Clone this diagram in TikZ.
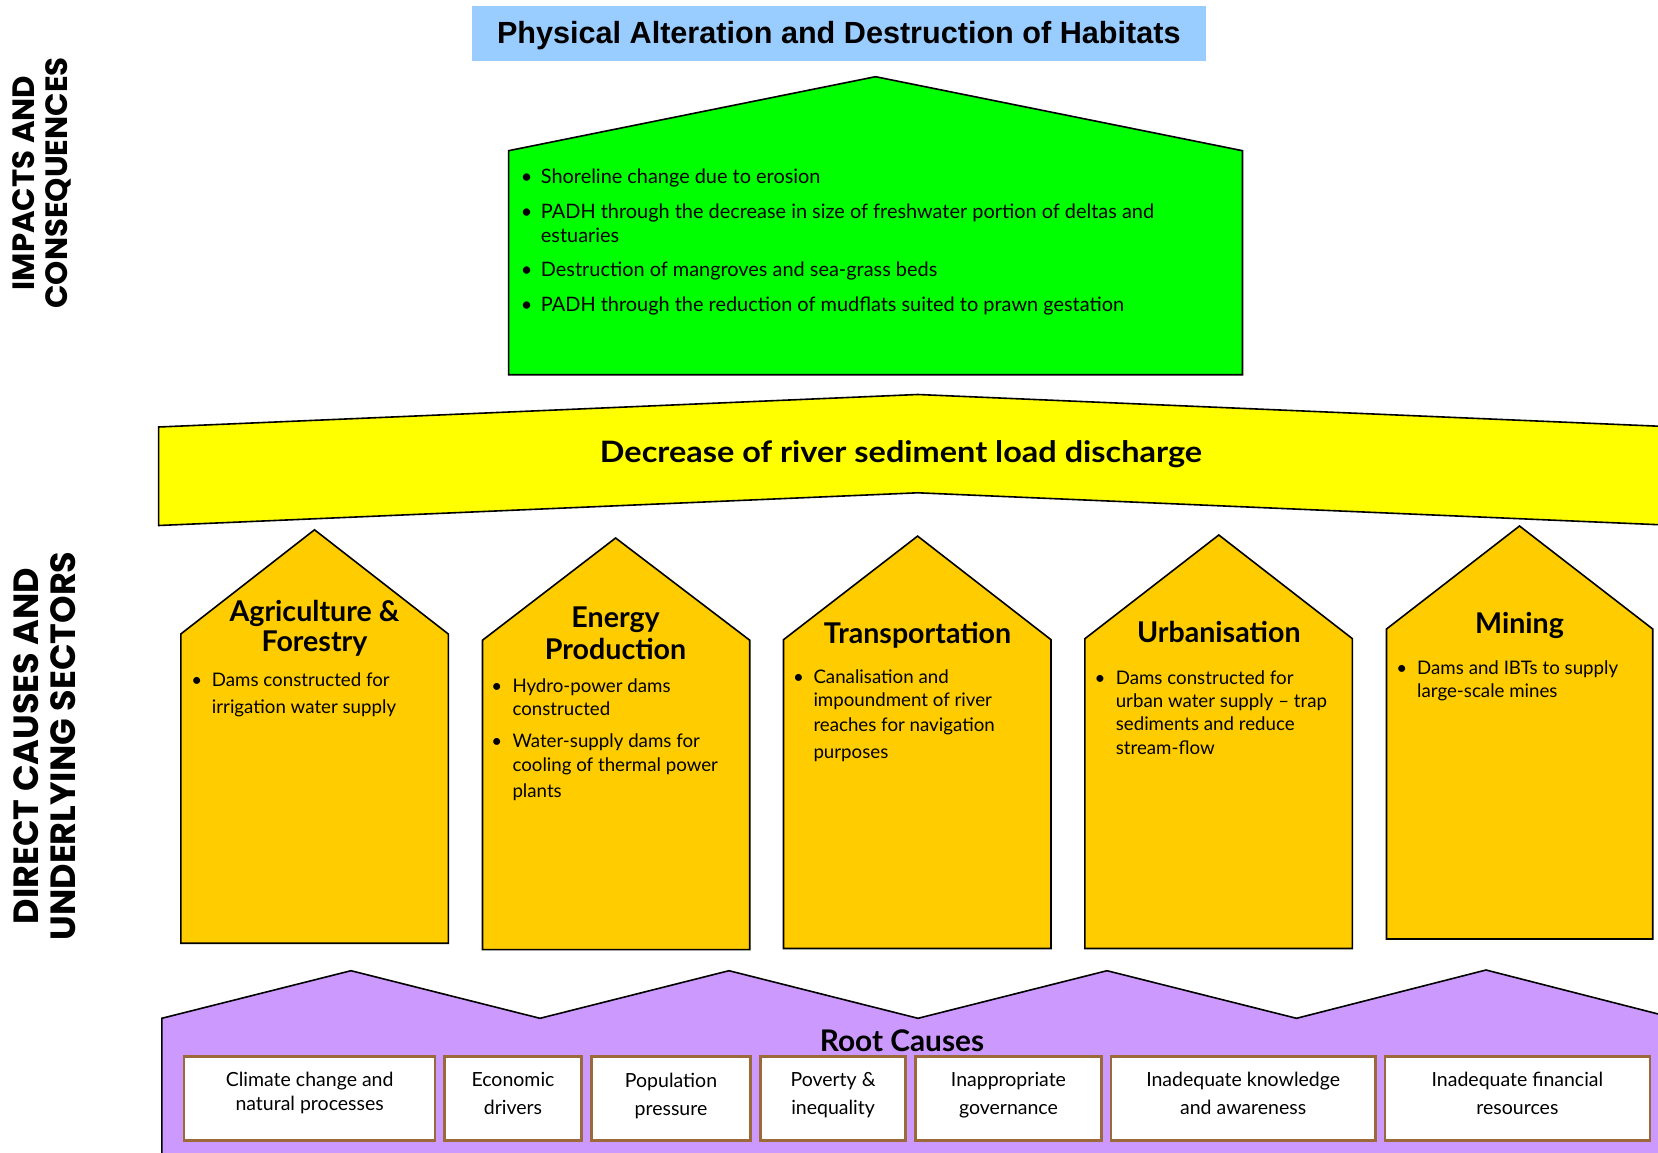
\documentclass[tikz,border=0pt]{standalone}
\usepackage{fontspec}
\setmainfont{Lato}
\newfontfamily\titlef{Liberation Sans}
\newfontfamily\sidef{Poppins}
\definecolor{titlebg}{HTML}{99CCFF}
\definecolor{greenf}{HTML}{00FF00}
\definecolor{yellowf}{HTML}{FFFF00}
\definecolor{orangef}{HTML}{FFCC00}
\definecolor{purplef}{HTML}{CC99FF}
\definecolor{brownb}{HTML}{9C6A3A}
\newcommand{\txtline}[4]{\node[body] (#1) at (#2,#3) {#4};}
\newcommand{\bulat}[3]{\node[bul] (#1) at (#2,#3) {\textbullet};}
\newcommand{\otxtline}[4]{\node[body,obody] (#1) at (#2,#3) {#4};}
\newcommand{\obulat}[3]{\node[bul,obody] (#1) at (#2,#3) {\textbullet};}
\newcommand{\ctline}[4]{\node[ctext] (#1) at (#2,#3) {#4};}
\begin{document}
\begin{tikzpicture}[x=1pt,y=-1pt,
  shapeline/.style={draw=black,line width=1.6pt,line join=miter},
  body/.style={font=\fontsize{19.9}{23}\selectfont,inner sep=0pt,anchor=base west},
  obody/.style={font=\fontsize{18.7}{22}\selectfont},
  bul/.style={font=\fontsize{19.9}{23}\selectfont,inner sep=0pt,anchor=base},
  head/.style={font=\fontsize{28.6}{31}\selectfont\bfseries,inner sep=0pt,anchor=base},
  ctext/.style={font=\fontsize{19.5}{23}\selectfont,inner sep=0pt,anchor=base},
  causebox/.style={draw=brownb,line width=2.5pt,fill=white,inner sep=0pt},
  sidelabel/.style={font=\sidef\bfseries,rotate=90,align=center,inner sep=0pt}
]
\useasboundingbox (0,0) rectangle (1658,1153);

% title
\node[fill=titlebg,inner sep=0pt,minimum width=734.5pt,minimum height=55pt] (titlebox) at (838.8,33.8) {};
\node[font=\titlef\fontsize{30.6}{34}\selectfont\bfseries,inner sep=0pt,anchor=base] (title) at (838.8,44) {Physical Alteration and Destruction of Habitats};

% side labels
\node[sidelabel,font=\sidef\bfseries\fontsize{30.8}{32.5}\selectfont] (impacts) at (42,183) {IMPACTS AND\\CONSEQUENCES};
\node[sidelabel,font=\sidef\bfseries\fontsize{35}{37}\selectfont] (direct) at (45,746) {DIRECT CAUSES AND\\UNDERLYING SECTORS};

% green house
\draw[shapeline,fill=greenf] (508.6,374.7) -- (508.6,150.7) -- (875.5,76.7) -- (1242.5,150.7) -- (1242.5,374.7) -- cycle;
\bulat{gb1}{526.7}{183.3}\txtline{g1}{540.7}{183.3}{Shoreline change due to erosion}
\bulat{gb2}{526.7}{218.3}\txtline{g2}{540.7}{218.3}{PADH through the decrease in size of freshwater portion of deltas and}
\txtline{g2b}{540.7}{242.7}{estuaries}
\bulat{gb3}{526.7}{276.7}\txtline{g3}{540.7}{276.7}{Destruction of mangroves and sea-grass beds}
\bulat{gb4}{526.7}{311.7}\txtline{g4}{540.7}{311.7}{PADH through the reduction of mudflats suited to prawn gestation}

% yellow banner
\draw[shapeline,fill=yellowf] (158.6,427) -- (917.8,394.5) -- (1677,427) -- (1677,525.5) -- (917.8,492.8) -- (158.6,525.5) -- cycle;
\node[head,font=\fontsize{29.5}{32}\selectfont\bfseries] (decrease) at (901,462.5) {\scalebox{1.1}[1]{Decrease of river sediment load discharge}};

% orange houses
\draw[shapeline,fill=orangef] (180.8,943.2) -- (180.8,634) -- (314.5,529.8) -- (448.3,634) -- (448.3,943.2) -- cycle;
\draw[shapeline,fill=orangef] (482.5,949.6) -- (482.5,640.2) -- (615.6,538) -- (749.7,640.2) -- (749.7,949.6) -- cycle;
\draw[shapeline,fill=orangef] (783.5,948.5) -- (783.5,639.7) -- (917.6,536.1) -- (1051,639.7) -- (1051,948.5) -- cycle;
\draw[shapeline,fill=orangef] (1084.9,948.5) -- (1084.9,638.7) -- (1218.8,535) -- (1352.4,638.7) -- (1352.4,948.5) -- cycle;
\draw[shapeline,fill=orangef] (1386.5,939) -- (1386.5,629) -- (1519.5,526) -- (1652.7,629) -- (1652.7,939) -- cycle;

\node[head] (agri1) at (314.5,621.5) {Agriculture \&};
\node[head] (agri2) at (314.5,651) {Forestry};
\obulat{ab1}{196.7}{686}\otxtline{a1}{211.7}{686}{Dams constructed for}
\otxtline{a1b}{211.7}{713}{irrigation water supply}

\node[head] (ener1) at (615.6,627.5) {Energy};
\node[head] (ener2) at (615.6,659.5) {Production};
\obulat{eb1}{496.7}{692.5}\otxtline{e1}{512.3}{692.5}{Hydro-power dams}
\otxtline{e1b}{512.3}{715.5}{constructed}
\obulat{eb2}{496.7}{747}\otxtline{e2}{512.3}{747}{Water-supply dams for}
\otxtline{e2b}{512.3}{771}{cooling of thermal power}
\otxtline{e2c}{512.3}{797}{plants}

\node[head] (trans) at (917.6,643) {Transportation};
\obulat{tb1}{798.5}{683}\otxtline{t1}{813.3}{683}{Canalisation and}
\otxtline{t1b}{813.3}{706.5}{impoundment of river}
\otxtline{t1c}{813.3}{731}{reaches for navigation}
\otxtline{t1d}{813.3}{758}{purposes}

\node[head] (urban) at (1218.8,642) {Urbanisation};
\obulat{ub1}{1100}{684}\otxtline{u1}{1115.6}{684}{Dams constructed for}
\otxtline{u1b}{1115.6}{707.5}{urban water supply -- trap}
\otxtline{u1c}{1115.6}{730.5}{sediments and reduce}
\otxtline{u1d}{1115.6}{754}{stream-flow}

\node[head] (mining) at (1519.5,633) {Mining};
\obulat{mb1}{1401.8}{674.5}\otxtline{m1}{1417}{674.5}{Dams and IBTs to supply}
\otxtline{m1b}{1417}{697.5}{large-scale mines}

% purple root causes
\draw[shapeline,fill=purplef] (1675,1200) -- (161.8,1200) -- (161.8,1018.3) -- (351,970.7) -- (540,1018.3) -- (729,970.7) -- (918,1018.3) -- (1107,970.7) -- (1296.5,1018.3) -- (1486,970) -- (1675,1018.3) -- cycle;
\node[head,font=\fontsize{29.8}{32}\selectfont\bfseries] (root) at (902,1051.7) {Root Causes};

\node[causebox,minimum width=250.9pt,minimum height=83.8pt] (c1) at (309.65,1098.6) {};
\node[causebox,minimum width=136.6pt,minimum height=83.8pt] (c2) at (513,1098.6) {};
\node[causebox,minimum width=159.4pt,minimum height=83.8pt] (c3) at (671,1098.6) {};
\node[causebox,minimum width=144.8pt,minimum height=83.8pt] (c4) at (833.1,1098.6) {};
\node[causebox,minimum width=185.9pt,minimum height=83.8pt] (c5) at (1008.45,1098.6) {};
\node[causebox,minimum width=264.5pt,minimum height=83.8pt] (c6) at (1243.15,1098.6) {};
\node[causebox,minimum width=265.1pt,minimum height=83.8pt] (c7) at (1517.45,1098.6) {};

\ctline{c1a}{309.65}{1086}{Climate change and}
\ctline{c1b}{309.65}{1110}{natural processes}
\ctline{c2a}{513}{1086}{Economic}
\ctline{c2b}{513}{1114}{drivers}
\ctline{c3a}{671}{1087}{Population}
\ctline{c3b}{671}{1115}{pressure}
\ctline{c4a}{833.1}{1086}{Poverty \&}
\ctline{c4b}{833.1}{1114}{inequality}
\ctline{c5a}{1008.45}{1086}{Inappropriate}
\ctline{c5b}{1008.45}{1114}{governance}
\ctline{c6a}{1243.15}{1086}{Inadequate knowledge}
\ctline{c6b}{1243.15}{1114}{and awareness}
\ctline{c7a}{1517.45}{1086}{Inadequate financial}
\ctline{c7b}{1517.45}{1114}{resources}
\end{tikzpicture}
\end{document}
